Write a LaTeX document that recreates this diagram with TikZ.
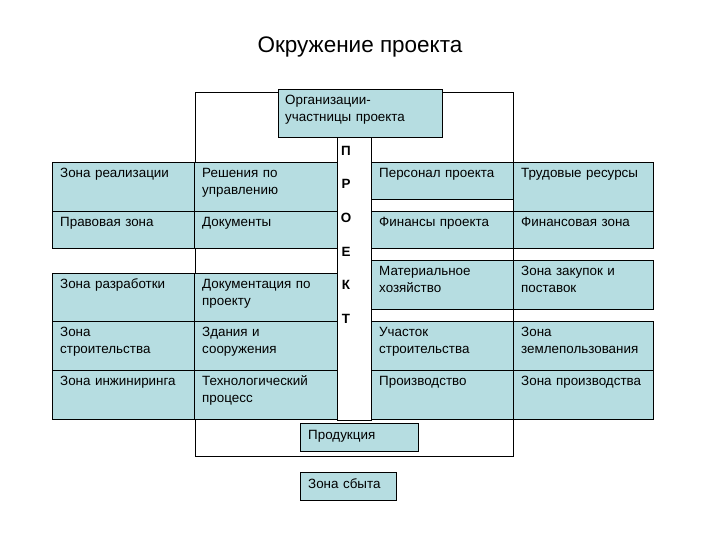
\documentclass[tikz,border=0pt]{standalone}
\usepackage{fontspec}
\setmainfont{Liberation Sans}
\usetikzlibrary{positioning}
\definecolor{zone}{HTML}{B6DDE1}

\begin{document}
\begin{tikzpicture}[x=1pt,y=-1pt,
  every node/.style={font=\fontsize{13.4}{17}\selectfont},
  cell/.style={draw,fill=zone,line width=0.8pt,anchor=north west,inner sep=0pt},
  txt/.style={anchor=north west,text width=128pt,align=left,inner xsep=8pt,
    inner ysep=3.6pt,execute at begin node=\strut},
  letter/.style={font=\fontsize{13.4}{15}\selectfont\bfseries}]
\useasboundingbox (0,0) rectangle (720,540);
\node (title) at (360,47) {\fontsize{22.5}{26}\selectfont Окружение проекта};
\draw[line width=0.8pt] (195,92) rectangle (513,456);
% left side
\node[cell,minimum width=142,minimum height=49,
  label={[txt]north west:Зона реализации}] (zr) at (52,162) {};
\node[cell,minimum width=143,minimum height=49,
  label={[txt]north west:Решения по\\управлению}] (ru) at (194,162) {};
\node[cell,minimum width=142,minimum height=37,
  label={[txt]north west:Правовая зона}] (pz) at (52,211) {};
\node[cell,minimum width=143,minimum height=37,
  label={[txt]north west:Документы}] (dk) at (194,211) {};
\node[cell,minimum width=142,minimum height=48,
  label={[txt]north west:Зона разработки}] (zrb) at (52,273) {};
\node[cell,minimum width=143,minimum height=48,
  label={[txt]north west:Документация по\\проекту}] (dp) at (194,273) {};
\node[cell,minimum width=142,minimum height=49,
  label={[txt]north west:Зона\\строительства}] (zs) at (52,321) {};
\node[cell,minimum width=143,minimum height=49,
  label={[txt]north west:Здания и\\сооружения}] (zis) at (194,321) {};
\node[cell,minimum width=142,minimum height=49,
  label={[txt]north west:Зона инжиниринга}] (zi) at (52,370) {};
\node[cell,minimum width=143,minimum height=49,
  label={[txt]north west:Технологический\\процесс}] (tp) at (194,370) {};
% right side
\node[cell,minimum width=142,minimum height=37,
  label={[txt]north west:Персонал проекта}] (pp) at (371,162) {};
\node[cell,minimum width=140,minimum height=49,
  label={[txt]north west:Трудовые ресурсы}] (tr) at (513,162) {};
\node[cell,minimum width=142,minimum height=37,
  label={[txt]north west:Финансы проекта}] (fp) at (371,211) {};
\node[cell,minimum width=140,minimum height=37,
  label={[txt]north west:Финансовая зона}] (fz) at (513,211) {};
\node[cell,minimum width=142,minimum height=49,
  label={[txt]north west:Материальное\\хозяйство}] (mh) at (371,260) {};
\node[cell,minimum width=140,minimum height=49,
  label={[txt]north west:Зона закупок и\\поставок}] (zzp) at (513,260) {};
\node[cell,minimum width=142,minimum height=49,
  label={[txt]north west:Участок\\строительства}] (us) at (371,321) {};
\node[cell,minimum width=140,minimum height=49,
  label={[txt]north west:Зона\\землепользования}] (zz) at (513,321) {};
\node[cell,minimum width=142,minimum height=49,
  label={[txt]north west:Производство}] (pr) at (371,370) {};
\node[cell,minimum width=140,minimum height=49,
  label={[txt]north west:Зона производства}] (zpr) at (513,370) {};
% project column
\node[cell,fill=white,minimum width=34,minimum height=283] (pcol) at (337,137) {};
\foreach \l [count=\i] in {П,Р,О,Е,К,Т}
  \node[letter] (p\i) at (346,{117+33.6*\i}) {\l};
\node[cell,minimum width=164,minimum height=48,
  label={[txt,text width=150pt,inner xsep=7pt]north west:Организации-\\участницы проекта}] (org) at (278,89) {};
\node[cell,minimum width=118,minimum height=28,
  label={[txt,text width=100pt,inner ysep=4pt]north west:Продукция}] (prod) at (300,423) {};
\node[cell,minimum width=96,minimum height=28,
  label={[txt,text width=80pt,inner ysep=4pt]north west:Зона сбыта}] (sbyt) at (300,472) {};
\end{tikzpicture}
\end{document}
